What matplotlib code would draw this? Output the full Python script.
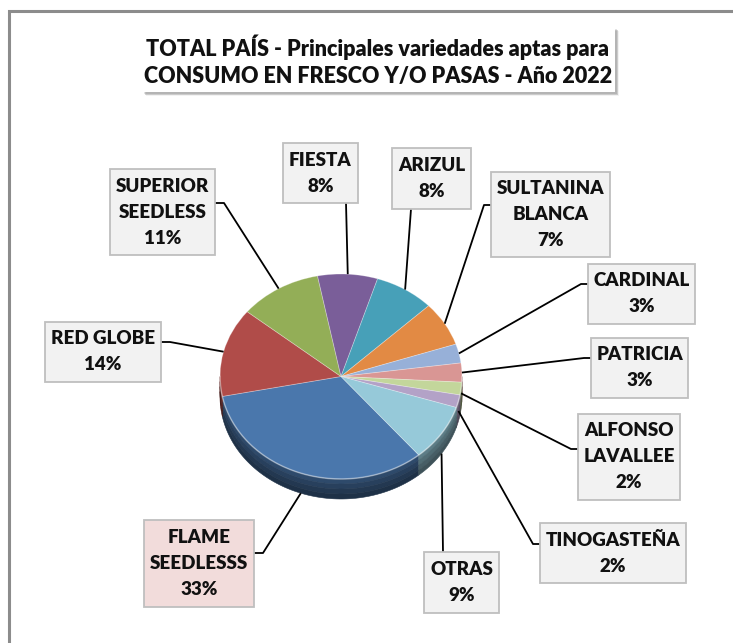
import numpy as np
import matplotlib
matplotlib.use("Agg")
import matplotlib.pyplot as plt
from matplotlib.patches import Rectangle
from matplotlib.transforms import Affine2D

plt.rcParams['font.family'] = ['Lato', 'DejaVu Sans']

# data, in Excel series order (clockwise)
varieties = ["FLAME\nSEEDLESSS", "RED GLOBE", "SUPERIOR\nSEEDLESS", "FIESTA", "ARIZUL",
             "SULTANINA\nBLANCA", "CARDINAL", "PATRICIA", "ALFONSO\nLAVALLEE",
             "TINOGASTEÑA", "OTRAS"]
shares = [33, 14, 11, 8, 8, 7, 3, 3, 2, 2, 9]
colors = ['#4A77AC', '#B04C49', '#93AE57', '#7A5E99', '#47A0B8', '#E28A44',
          '#97B0D8', '#D99694', '#C3D69B', '#B3A2C7', '#96C9D9']

title = "TOTAL PAÍS - Principales variedades aptas para\nCONSUMO EN FRESCO Y/O PASAS - Año 2022"

# label boxes (x0, y0, x1, y1) in pixels, and where the leader line attaches
boxes = [(144, 520, 254, 607), (45, 322, 161, 382), (110, 169, 215, 255),
         (283, 143, 358, 203), (392, 148, 471, 209), (491, 172, 610, 257),
         (588, 264, 695, 324), (591, 338, 688, 398), (578, 414, 680, 500),
         (540, 523, 686, 583), (424, 552, 499, 613)]
anchors = [('right', 553), ('right', 342), ('right', 203), ('bottom', 346),
           ('bottom', 411), ('left', 205), ('left', 284), ('left', 358),
           ('left', 449), ('left', 544), ('top', 443)]

W, H = 733, 643
CX, CY, RX, RY, DEPTH = 341, 376.5, 121, 102.5, 20


def shade(c, f):
    r, g, b = matplotlib.colors.to_rgb(c)
    return (r * f, g * f, b * f)


fig = plt.figure(figsize=(W / 100, H / 100), dpi=100)
ax = fig.add_axes([0, 0, 1, 1])

wedges, _ = ax.pie(shares, colors=colors, startangle=310, counterclock=False,
                   radius=1, center=(0, 0),
                   wedgeprops=dict(edgecolor=(1, 1, 1, 0.3), linewidth=0.6))
ax.set_xlim(0, W)
ax.set_ylim(H, 0)
ax.set_aspect('auto')
ax.axis('off')

pie_tf = Affine2D().scale(RX, -RY).translate(CX, CY) + ax.transData
for w in wedges:
    w.set_transform(pie_tf)
    w.set_zorder(3)

# side wall of the 3d pie (front half only), shaded in bands
bands = [(0.0, 0.25, 0.62), (0.25, 0.5, 0.54), (0.5, 0.75, 0.47), (0.75, 1.0, 0.41)]
for w, c in zip(wedges, colors):
    for lo, hi in [(180, 360), (-180, 0)]:
        a0, a1 = max(w.theta1, lo), min(w.theta2, hi)
        if a1 <= a0:
            continue
        t = np.radians(np.linspace(a0, a1, 80))
        xs = CX + RX * np.cos(t)
        ys = CY - RY * np.sin(t)
        for d0, d1, f in bands:
            px = np.concatenate([xs, xs[::-1]])
            py = np.concatenate([ys + d0 * DEPTH, (ys + d1 * DEPTH)[::-1]])
            ax.fill(px, py, color=shade(c, f), lw=0.4, ec=shade(c, f), zorder=2)

# light rim on the front edge
t = np.radians(np.linspace(180, 360, 200))
ax.plot(CX + RX * np.cos(t), CY - RY * np.sin(t), color='white', alpha=0.3,
        lw=1.2, zorder=4)

# labels with leader lines
for w, name, s, (x0, y0, x1, y1), (side, pos) in zip(wedges, varieties, shares, boxes, anchors):
    fc = '#F2DCDB' if s == max(shares) else '#F2F2F2'
    ax.add_patch(Rectangle((x0, y0), x1 - x0, y1 - y0, fc=fc, ec='#BFBFBF',
                           lw=1.3, zorder=6))
    lines = name.split("\n") + ["{}%".format(s)]
    yc = (y0 + y1) / 2
    for i, ln in enumerate(lines):
        ax.text((x0 + x1) / 2, yc + (i - (len(lines) - 1) / 2) * 26, ln,
                ha='center', va='center', fontsize=13.5, fontweight='heavy',
                color='#111111', zorder=7)

    tm = np.radians((w.theta1 + w.theta2) / 2)
    px = CX + RX * np.cos(tm)
    py = CY - RY * np.sin(tm)
    if np.sin(tm) < 0:
        py += DEPTH * min(1, -np.sin(tm) * 2)
    if side == 'right':
        xs, ys = [px, x1 + 9, x1], [py, pos, pos]
    elif side == 'left':
        xs, ys = [px, x0 - 7, x0], [py, pos, pos]
    elif side == 'bottom':
        xs, ys = [px, pos], [py, y1]
    else:
        xs, ys = [px, pos], [py, y0]
    ax.plot(xs, ys, color='black', lw=1.3, zorder=5, solid_capstyle='butt')

# title box with soft shadow
for k, a in enumerate([0.05, 0.07, 0.09, 0.11]):
    off = 4 - k * 0.6
    ax.add_patch(Rectangle((142 + off, 27 + off), 473, 65, fc='black', ec='none',
                           alpha=a, zorder=7))
ax.add_patch(Rectangle((142, 27), 473, 65, fc='white', ec='none', zorder=8))
ax.text(378, 61, title, ha='center', va='center', fontsize=15.5,
        fontweight='heavy', color='#111111', linespacing=1.35, zorder=9)

# outer chart frame (cut off on the right and bottom)
ax.plot([9, 9, W + 5], [H + 5, 10.5, 10.5], color='#8C8C8C', lw=2.2, zorder=10,
        solid_joinstyle='miter')

fig.savefig("out.png", dpi=100)
